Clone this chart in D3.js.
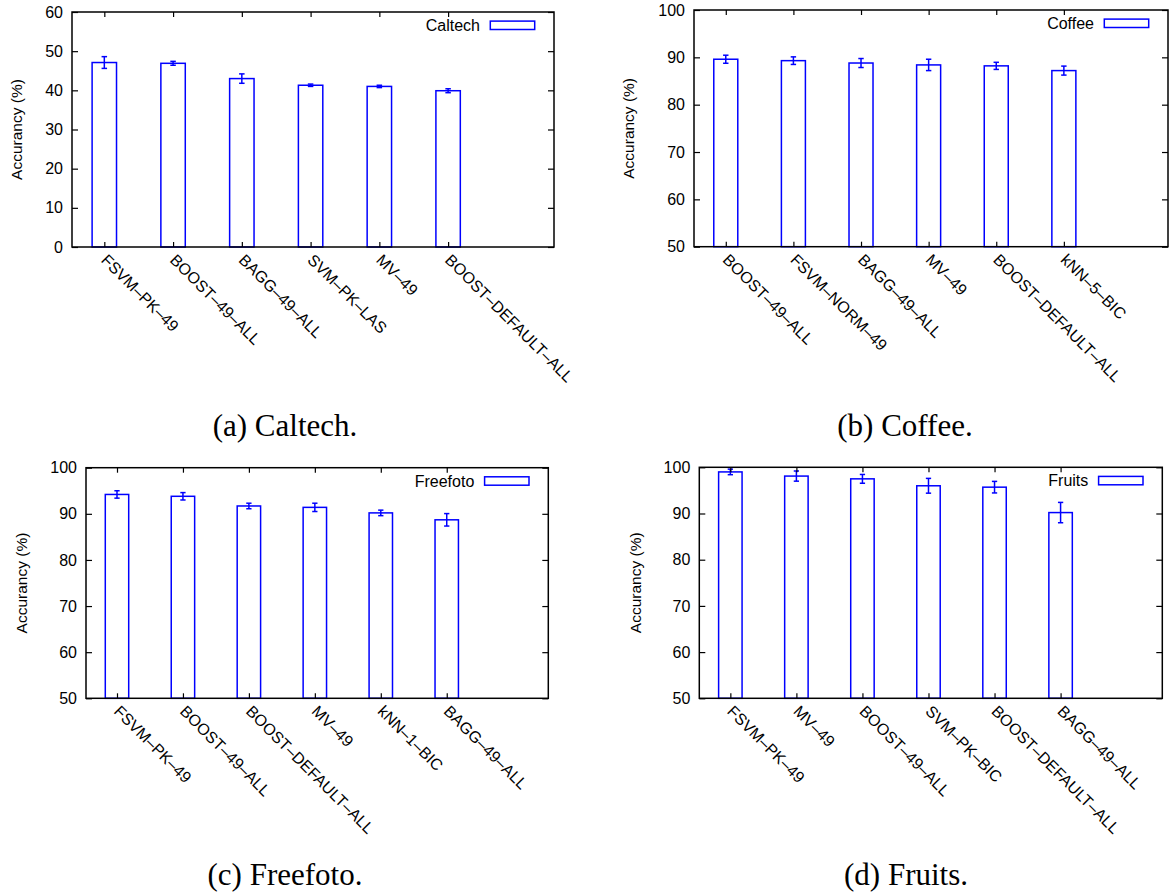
<!DOCTYPE html>
<html>
<head>
<meta charset="utf-8">
<script src="https://cdn.jsdelivr.net/npm/d3@7"></script>
<style>
  html, body { margin: 0; padding: 0; background: #fff; }
  svg { display: block; }
</style>
</head>
<body>
<svg id="chart" width="1170" height="894"></svg>
<script>
// ---------- data ----------
const caltechLabels = ["FSVM–PK–49", "BOOST–49–ALL", "BAGG–49–ALL", "SVM–PK–LAS", "MV–49", "BOOST–DEFAULT–ALL"];
const caltechAcc    = [47.1, 46.9, 43.0, 41.3, 41.0, 39.9];
const caltechErr    = [1.5, 0.5, 1.2, 0.3, 0.3, 0.5];

const coffeeLabels = ["BOOST–49–ALL", "FSVM–NORM–49", "BAGG–49–ALL", "MV–49", "BOOST–DEFAULT–ALL", "kNN–5–BIC"];
const coffeeAcc    = [89.6, 89.3, 88.8, 88.4, 88.2, 87.2];
const coffeeErr    = [0.85, 0.8, 0.95, 1.2, 0.75, 0.95];

const freefotoLabels = ["FSVM–PK–49", "BOOST–49–ALL", "BOOST–DEFAULT–ALL", "MV–49", "kNN–1–BIC", "BAGG–49–ALL"];
const freefotoAcc    = [94.2, 93.8, 91.7, 91.4, 90.2, 88.7];
const freefotoErr    = [0.8, 0.8, 0.6, 0.9, 0.6, 1.35];

const fruitsLabels = ["FSVM–PK–49", "MV–49", "BOOST–49–ALL", "SVM–PK–BIC", "BOOST–DEFAULT–ALL", "BAGG–49–ALL"];
const fruitsAcc    = [99.0, 98.1, 97.5, 96.0, 95.7, 90.2];
const fruitsErr    = [0.6, 1.1, 0.95, 1.6, 1.25, 2.2];

const caltechTicks = [0, 10, 20, 30, 40, 50, 60];
const highTicks    = [50, 60, 70, 80, 90, 100];

const legendNames = ["Caltech", "Coffee", "Freefoto", "Fruits"];
const captions    = ["(a) Caltech.", "(b) Coffee.", "(c) Freefoto.", "(d) Fruits."];

// ---------- layout ----------
const panels = [
  { labels: caltechLabels,  acc: caltechAcc,  err: caltechErr,  ydom: [0, 60],   ticks: caltechTicks,
    left: 72,    top: 12,    right: 554,    bottom: 247,   ylabOff: 55, capX: 285, capY: 436 },
  { labels: coffeeLabels,   acc: coffeeAcc,   err: coffeeErr,   ydom: [50, 100], ticks: highTicks,
    left: 694,   top: 10,    right: 1168,   bottom: 246.7, ylabOff: 65, capX: 905, capY: 436 },
  { labels: freefotoLabels, acc: freefotoAcc, err: freefotoErr, ydom: [50, 100], ticks: highTicks,
    left: 86,    top: 467.7, right: 548.3,  bottom: 698.3, ylabOff: 64, capX: 285, capY: 885 },
  { labels: fruitsLabels,   acc: fruitsAcc,   err: fruitsErr,   ydom: [50, 100], ticks: highTicks,
    left: 699.3, top: 467.3, right: 1162.3, bottom: 698.3, ylabOff: 64, capX: 906, capY: 885 }
];

const svg = d3.select("#chart");
const BLUE = "#0000ff";
const AX = "#000";
const SANS = "'Liberation Sans', Arial, Helvetica, sans-serif";
const FS = 16;

panels.forEach((p, pi) => {
  const g = svg.append("g");
  const idx = d3.range(p.labels.length);
  const x = d3.scaleLinear().domain([-0.47, 6.54]).range([p.left, p.right]);
  const y = d3.scaleLinear().domain(p.ydom).range([p.bottom, p.top]);
  const halfW = 0.1775, capW = 0.04;

  // bars
  g.selectAll("rect.bar").data(idx).join("rect")
    .attr("class", "bar")
    .attr("x", i => x(i - halfW))
    .attr("width", i => x(i + halfW) - x(i - halfW))
    .attr("y", i => y(p.acc[i]))
    .attr("height", i => y(p.ydom[0]) - y(p.acc[i]))
    .attr("fill", "#fff").attr("stroke", BLUE).attr("stroke-width", 1.5);

  // error bars
  const eg = g.selectAll("g.err").data(idx).join("g").attr("class", "err")
    .attr("stroke", BLUE).attr("stroke-width", 1.5);
  eg.append("line").attr("x1", i => x(i)).attr("x2", i => x(i))
    .attr("y1", i => y(p.acc[i] + p.err[i])).attr("y2", i => y(p.acc[i] - p.err[i]));
  eg.append("line").attr("x1", i => x(i - capW)).attr("x2", i => x(i + capW))
    .attr("y1", i => y(p.acc[i] + p.err[i])).attr("y2", i => y(p.acc[i] + p.err[i]));
  eg.append("line").attr("x1", i => x(i - capW)).attr("x2", i => x(i + capW))
    .attr("y1", i => y(p.acc[i] - p.err[i])).attr("y2", i => y(p.acc[i] - p.err[i]));

  // axes (ticks inward)
  const yAxisL = d3.axisLeft(y).tickValues(p.ticks).tickSize(-6).tickPadding(9).tickFormat(d3.format("d"));
  const yAxisR = d3.axisRight(y).tickValues(p.ticks).tickSize(-6).tickFormat("");
  const xAxisB = d3.axisBottom(x).tickValues(idx).tickSize(-5).tickFormat("");
  const xAxisT = d3.axisTop(x).tickValues(idx).tickSize(-5).tickFormat("");

  const styleAxis = sel => {
    sel.select(".domain").remove();
    sel.selectAll(".tick line").attr("stroke", AX).attr("stroke-width", 1.2);
    sel.selectAll("text").attr("font-family", SANS).attr("font-size", FS).attr("fill", "#000");
  };
  g.append("g").attr("transform", `translate(${p.left},0)`).call(yAxisL).call(styleAxis);
  g.append("g").attr("transform", `translate(${p.right},0)`).call(yAxisR).call(styleAxis);
  g.append("g").attr("transform", `translate(0,${p.bottom})`).call(xAxisB).call(styleAxis);
  g.append("g").attr("transform", `translate(0,${p.top})`).call(xAxisT).call(styleAxis);

  // frame
  g.append("rect").attr("x", p.left).attr("y", p.top)
    .attr("width", p.right - p.left).attr("height", p.bottom - p.top)
    .attr("fill", "none").attr("stroke", AX).attr("stroke-width", 1.5);

  // rotated category labels
  g.selectAll("text.cat").data(idx).join("text")
    .attr("class", "cat")
    .attr("transform", i => `translate(${x(i) - 4},${p.bottom + 14}) rotate(45)`)
    .attr("font-family", SANS).attr("font-size", FS).attr("fill", "#000")
    .text(i => p.labels[i]);

  // y label
  g.append("text")
    .attr("transform", `translate(${p.left - p.ylabOff},${(p.top + p.bottom) / 2}) rotate(-90)`)
    .attr("text-anchor", "middle").attr("dy", "0.35em")
    .attr("font-family", SANS).attr("font-size", 15.5).attr("fill", "#000")
    .text("Accurancy (%)");

  // legend
  const ly = p.top + 13.3;
  g.append("rect").attr("x", p.right - 63.7).attr("y", ly - 4.2)
    .attr("width", 44.4).attr("height", 8.4)
    .attr("fill", "#fff").attr("stroke", BLUE).attr("stroke-width", 1.5);
  g.append("text").attr("x", p.right - 74).attr("y", ly).attr("dy", "0.35em")
    .attr("text-anchor", "end")
    .attr("font-family", SANS).attr("font-size", FS).attr("fill", "#000")
    .text(legendNames[pi]);

  // caption
  svg.append("text").attr("x", p.capX).attr("y", p.capY)
    .attr("text-anchor", "middle")
    .attr("font-family", "'Liberation Serif', 'Times New Roman', serif")
    .attr("font-size", 31).attr("fill", "#000")
    .text(captions[pi]);
});
</script>
</body>
</html>
